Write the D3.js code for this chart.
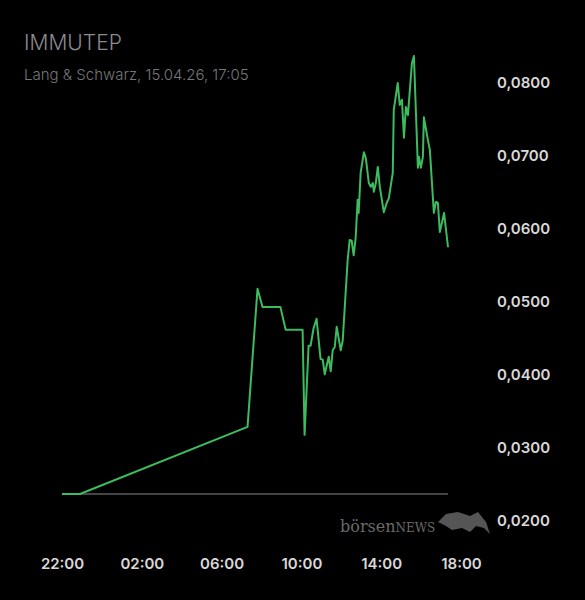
<!DOCTYPE html>
<html><head><meta charset="utf-8">
<script src="https://cdn.jsdelivr.net/npm/d3@7"></script>
<style>body{margin:0;background:#000;}svg{display:block;}</style>
</head><body>
<script>
// hours since 22:00 of previous day
const hours = [0,0.9,9.3,9.8,10.05,10.95,11.21,12.06,12.16,12.36,12.46,12.61,12.76,12.96,13.07,13.17,13.37,13.47,13.57,13.67,13.77,13.97,14.07,14.32,14.42,14.52,14.62,14.72,14.82,14.87,14.97,15.13,15.23,15.38,15.48,15.58,15.63,15.73,15.83,15.93,16.13,16.28,16.38,16.58,16.63,16.83,16.93,17.04,17.14,17.24,17.34,17.54,17.64,17.84,17.89,17.99,18.09,18.14,18.34,18.44,18.64,18.74,18.84,18.94,19.15,19.35];
const prices = [0.0237,0.0237,0.0329,0.0518,0.0493,0.0493,0.0462,0.0462,0.0318,0.0440,0.0440,0.0464,0.0477,0.0422,0.0421,0.0401,0.0425,0.0405,0.0434,0.0438,0.0466,0.0434,0.0447,0.0558,0.0585,0.0584,0.0564,0.0588,0.0640,0.0622,0.0677,0.0705,0.0697,0.0663,0.0658,0.0663,0.0651,0.0663,0.0685,0.0658,0.0623,0.0636,0.0642,0.0677,0.0763,0.0800,0.0770,0.0777,0.0725,0.0767,0.0756,0.0827,0.0837,0.0684,0.0699,0.0684,0.0699,0.0753,0.0722,0.0708,0.0622,0.0637,0.0636,0.0596,0.0622,0.0575];
const prevClose = 0.0237;
const xTicks = [0,4,8,12,16,20];
const xTickLabels = ["22:00","02:00","06:00","10:00","14:00","18:00"];
const yTicks = [0.02,0.03,0.04,0.05,0.06,0.07,0.08];

const W=585,H=600;
const svg=d3.select("body").append("svg").attr("width",W).attr("height",H).style("background","#000");
const x=d3.scaleLinear().domain([0,20]).range([62,461]);
const y=d3.scaleLinear().domain([0.02,0.08]).range([521,83]);
const font="Inter, 'Noto Sans', sans-serif";

svg.append("text").attr("x",24).attr("y",50).text("IMMUTEP").attr("fill","#8a8a8f").attr("font-size",21).attr("font-weight",300).attr("font-family",font);
svg.append("text").attr("x",24).attr("y",80).text("Lang & Schwarz, 15.04.26, 17:05").attr("fill","#77777c").attr("font-size",15).attr("font-weight",300).attr("font-family",font);

svg.append("line").attr("x1",x(0)).attr("x2",x(19.35)).attr("y1",y(prevClose)).attr("y2",y(prevClose)).attr("stroke","#8a8a8a").attr("stroke-width",1);

const yAxis=d3.axisRight(y).tickValues(yTicks).tickSize(0).tickFormat(d=>d3.format(".4f")(d).replace(".",","));
const gy=svg.append("g").attr("transform","translate(494,0)").call(yAxis);
gy.select(".domain").remove();
gy.selectAll("text").attr("fill","#d8d8d8").attr("font-size",15).attr("font-weight",600).attr("font-family",font).attr("dx",0);

const xAxis=d3.axisBottom(x).tickValues(xTicks).tickSize(0).tickFormat((d,i)=>xTickLabels[i]);
const gx=svg.append("g").attr("transform","translate(0,555)").call(xAxis);
gx.select(".domain").remove();
gx.selectAll("text").attr("fill","#d8d8d8").attr("font-size",15).attr("font-weight",600).attr("font-family",font);

const line=d3.line().x((d,i)=>x(hours[i])).y(d=>y(d));
svg.append("path").datum(prices).attr("d",line).attr("fill","none").attr("stroke","#3dbb5f").attr("stroke-width",2).attr("stroke-linejoin","round");

const logo=svg.append("text").attr("x",340).attr("y",532).attr("fill","#6a6a6a").attr("font-family","'DejaVu Serif', serif").attr("font-size",16);
logo.append("tspan").text("börsen");
logo.append("tspan").text("NEWS").attr("font-size",12);
svg.append("path").attr("d","M438,522 L446,514 L458,512 L470,516 L478,512 L486,522 L490,534 L484,528 L476,526 L470,532 L462,528 L452,530 L446,526 Z").attr("fill","#555");
</script>
</body></html>
